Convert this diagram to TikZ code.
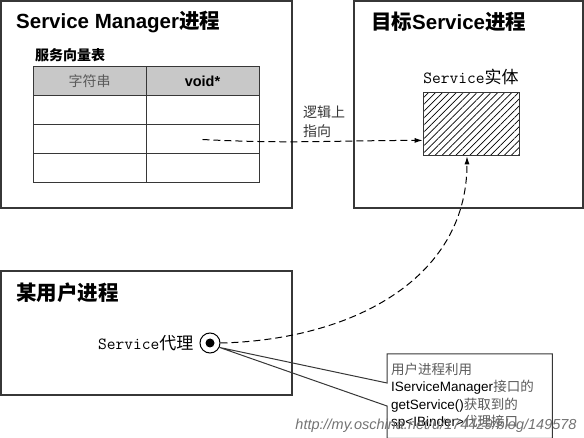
\documentclass[tikz,border=0pt]{standalone}
\usepackage{fontspec}
\setmainfont{Liberation Sans}
\newfontfamily\cjk{Noto Sans CJK SC}
\usetikzlibrary{positioning, calc, patterns.meta, arrows.meta}
\definecolor{framegray}{RGB}{55,55,55}
\definecolor{headgray}{RGB}{200,200,200}
\definecolor{textgray}{RGB}{90,90,90}

\begin{document}
\begin{tikzpicture}[x=1pt, y=-1pt]
        \tikzstyle{procbox}=[draw=framegray, line width=1.3pt, inner sep=0pt]
        \tikzstyle{cell}=[draw=framegray, line width=1pt, minimum width=113pt, minimum height=29pt, inner sep=0pt]
        \tikzstyle{title}=[anchor=west, inner sep=0pt, font=\fontsize{20.5}{24}\selectfont\bfseries]
        \tikzstyle{ptr}=[dashed, dash pattern=on 7pt off 4pt, line width=1pt, -{Latex[length=8pt,width=5pt]}]
        \tikzstyle{serifname}=[inner sep=0pt, font=\fontsize{17}{19}\selectfont\ttfamily]

        \useasboundingbox (0,0) rectangle (584,438);

        % Process boxes
        \node[procbox, minimum width=291pt, minimum height=207pt] (smgr) at (146.5,104.5) {};
        \node[procbox, minimum width=229pt, minimum height=207pt] (target) at (468.5,104.5) {};
        \node[procbox, minimum width=291pt, minimum height=124pt] (user) at (146.5,333) {};

        % Box titles
        \node[title] (smgrtitle) at (16,22) {Service Manager{\cjk 进程}};
        \node[title] (targettitle) at (371,22) {{\cjk 目标}Service{\cjk 进程}};
        \node[title] (usertitle) at (16,293) {\cjk 某用户进程};

        % Service vector table
        \node[anchor=west, inner sep=0pt, font=\fontsize{14}{16}\selectfont\cjk\bfseries] (tablename) at (35,55) {服务向量表};
        \node[cell, fill=headgray, text=textgray, font=\fontsize{14}{16}\selectfont\cjk] (keyhead) at (89.5,81.5) {字符串};
        \node[cell, fill=headgray, font=\fontsize{14.5}{16}\selectfont\bfseries] (valhead) at (202.5,81.5) {void*};
        \foreach \r in {1,2,3} {
            \node[cell] (key\r) at (89.5,81.5+29*\r) {};
            \node[cell] (val\r) at (202.5,81.5+29*\r) {};
        }

        % Service entity
        \node[draw=framegray, line width=1pt, minimum width=96pt, minimum height=63pt, inner sep=0pt,
              pattern={Lines[angle=45, distance=4.9pt, line width=0.7pt]}] (entity) at (471,124.5) {};
        \node[serifname, above=8pt of entity] (entityname) {Service{\cjk 实体}};
        \coordinate (entityin) at ($(entity.south west)!0.25!(entity.north west)$);

        % Logical pointer
        \node[anchor=west, align=left, inner sep=0pt, text=framegray, font=\fontsize{14}{19}\selectfont\cjk] (logiclabel) at (303,122) {逻辑上\\指向};
        \draw[ptr] (val2.center) to[out=-3, in=180] (entityin);

        % Service proxy
        \node[draw, circle, line width=1pt, minimum size=20pt, inner sep=0pt] (proxy) at (210,343) {};
        \node[circle, fill, minimum size=9pt, inner sep=0pt] (proxydot) at (proxy.center) {};
        \node[serifname, left=6pt of proxy] (proxyname) {Service{\cjk 代理}};
        \draw[ptr] (proxy.east) .. controls (350,340) and (467,280) .. ($(entity.south)+(-4,0)$);

        % Note with pointer
        \node[anchor=north west, align=left, inner xsep=4pt, inner ysep=5pt, minimum width=165pt, minimum height=84pt,
              text width=157pt, font=\fontsize{13.5}{17.3}\selectfont] (note) at (387,354)
            {{\cjk\color{textgray}用户进程利用}\\IServiceManager{\cjk\color{textgray}接口的}\\getService(){\cjk\color{textgray}获取到的}\\sp<IBinder>{\cjk\color{textgray}代理接口}};
        \coordinate (notehigh) at ($(note.north west)+(0,29)$);
        \coordinate (notelow) at ($(note.north west)+(0,52)$);
        \draw[framegray, line width=1pt] (note.north west) -- (note.north east) -- (note.south east) -- (note.south west)
            -- (notelow) -- (proxy.-25) -- (notehigh) -- cycle;

        % Watermark
        \node[inner sep=0pt, text=black!55, font=\fontsize{14.5}{16}\selectfont\itshape] (watermark) at (436,426) {http://my.oschina.net/u/174429/blog/149578};
\end{tikzpicture}
\end{document}
